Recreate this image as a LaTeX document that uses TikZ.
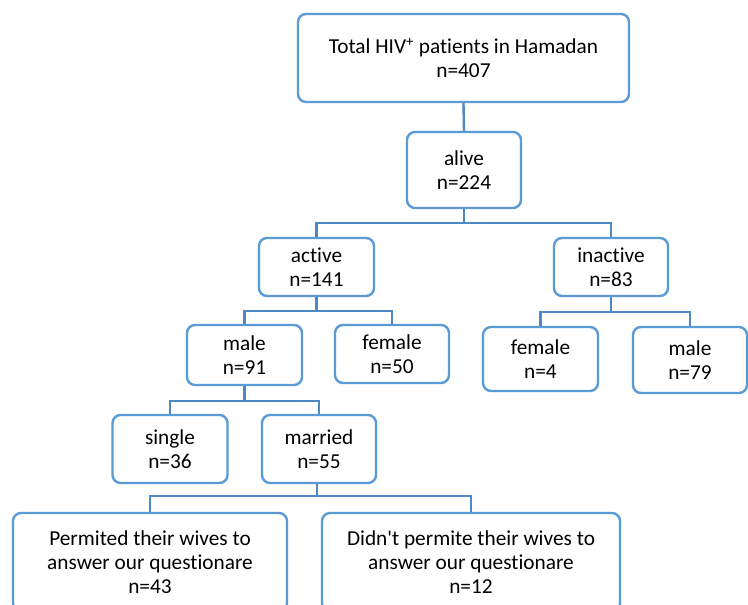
\documentclass[tikz,border=0pt]{standalone}
\usepackage{fontspec}
\setmainfont{Carlito}[Ligatures={TeXOff,CommonOff}]
\definecolor{boxline}{HTML}{5B9BD5}
\definecolor{connline}{HTML}{4F88C6}
\begin{document}
\begin{tikzpicture}[x=1pt,y=-1pt,
  box/.style={draw=boxline,line width=2.4pt,rounded corners=8pt,fill=white,
    align=center,inner sep=0pt,font=\fontsize{21.3}{24}\selectfont},
  conn/.style={draw=connline,line width=2.4pt}]
\useasboundingbox[fill=white] (0,0) rectangle (748,605);
\node[box,minimum width=331pt,minimum height=88pt] (top) at (463.5,58) {Total HIV\textsuperscript{+} patients in Hamadan\\n=407};
\node[box,minimum width=114pt,minimum height=76pt] (alive) at (464,170) {alive\\n=224};
\node[box,minimum width=115pt,minimum height=58pt] (active) at (316.5,267) {active\\n=141};
\node[box,minimum width=114pt,minimum height=58pt] (inactive) at (611,267) {inactive\\n=83};
\node[box,minimum width=115pt,minimum height=60pt] (male1) at (244.5,355) {male\\n=91};
\node[box,minimum width=114pt,minimum height=58pt] (female1) at (392,354) {female\\n=50};
\node[box,minimum width=115pt,minimum height=64pt] (female2) at (540.5,359) {female\\n=4};
\node[box,minimum width=114pt,minimum height=66pt] (male2) at (690,360) {male\\n=79};
\node[box,minimum width=115pt,minimum height=68pt] (single) at (170,449) {single\\n=36};
\node[box,minimum width=114pt,minimum height=68pt] (married) at (319,449) {married\\n=55};
\node[box,minimum width=274pt,minimum height=98pt] (perm) at (150,562) {Permited their wives to\\answer our questionare\\n=43};
\node[box,minimum width=298pt,minimum height=98pt] (didnt) at (471,562) {Didn't permite their wives to\\answer our questionare\\n=12};
% connectors
\coordinate (b1) at (464,223);
\coordinate (b2) at (316.5,311);
\coordinate (b3) at (611,312);
\coordinate (b4) at (244.5,401);
\coordinate (b5) at (317,496);
\draw[conn] (top.south) -- (alive.north);
\draw[conn] (alive.south) -- (b1);
\draw[conn] (active.north) |- (b1) -| (inactive.north);
\draw[conn] (active.south) -- (b2);
\draw[conn] (male1.north) |- (b2) -| (female1.north);
\draw[conn] (inactive.south) -- (b3);
\draw[conn] (female2.north) |- (b3) -| (male2.north);
\draw[conn] (male1.south) -- (b4);
\draw[conn] (single.north) |- (b4) -| (married.north);
\draw[conn] (married.south -| b5) -- (b5);
\draw[conn] (perm.north) |- (b5) -| (didnt.north);
\end{tikzpicture}
\end{document}
